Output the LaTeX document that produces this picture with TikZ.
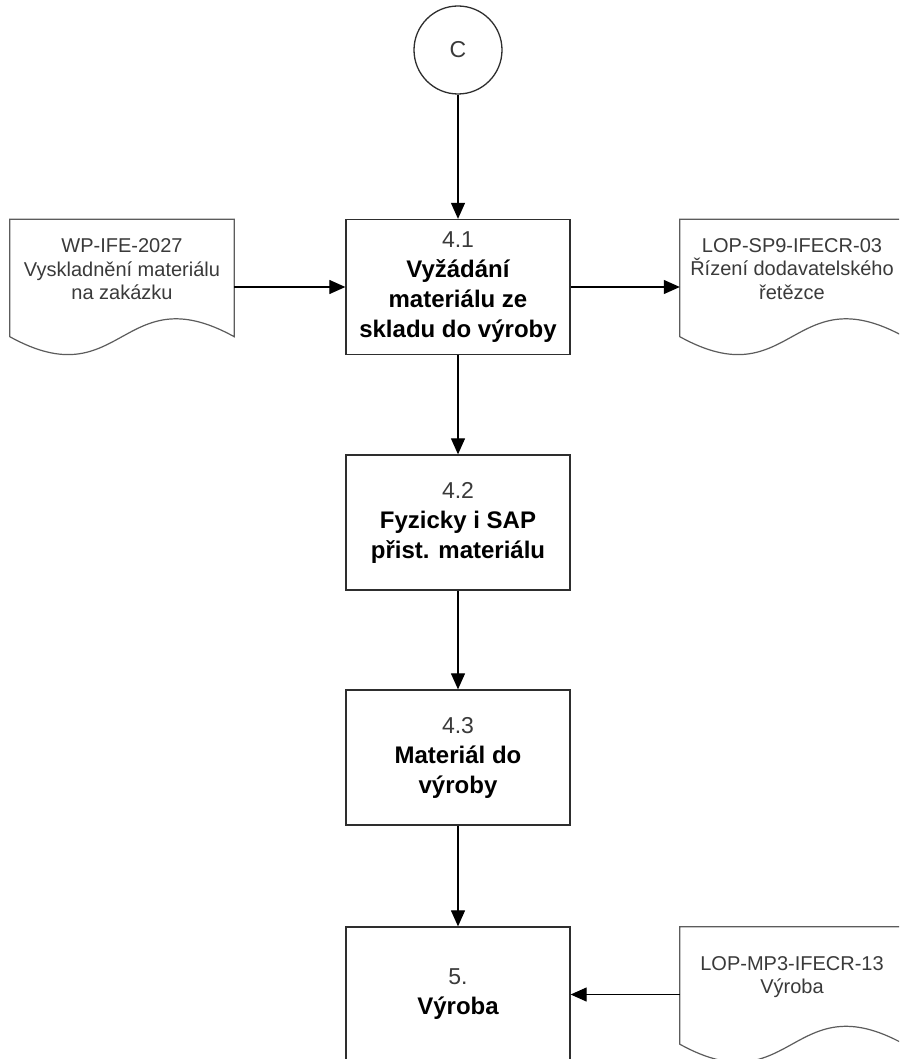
\documentclass[tikz,border=0pt]{standalone}
\usepackage{fontspec}
\setmainfont{Liberation Sans}
\usetikzlibrary{arrows.meta,calc}
\definecolor{boxline}{HTML}{2E2E2E}
\definecolor{docline}{HTML}{5C5C5C}
\definecolor{txtgray}{HTML}{3A3A3A}
\newcommand\stepnum[1]{{\fontsize{23}{30}\selectfont\mdseries\color{txtgray}#1}}
\newcommand\docshape[1]{\draw[docborder] (#1.north west) -- (#1.north east) -- ([yshift=18pt]#1.south east) .. controls ([yshift=80pt]#1.south) and ([yshift=-44pt]#1.south) .. ([yshift=18pt]#1.south west) -- cycle;}
\begin{document}
\begin{tikzpicture}[x=1pt,y=-1pt,
  procbox/.style={draw=boxline, line width=1.3pt, fill=white, minimum width=224pt, minimum height=135pt, inner sep=0pt, align=center, font=\fontsize{24}{30}\selectfont\bfseries},
  docnode/.style={minimum width=224pt, minimum height=135pt, inner sep=0pt},
  docborder/.style={draw=docline, line width=1.2pt, fill=white},
  doctext/.style={align=center, font=\fontsize{20}{23.5}\selectfont, text=txtgray, inner sep=0pt},
  conn/.style={-{Triangle[length=16pt,width=14pt]}, line width=1.2pt, black},
  connector/.style={circle, draw=boxline, line width=1.3pt, minimum size=88pt, inner sep=0pt, font=\fontsize{23}{26}\selectfont, text=txtgray}]
\useasboundingbox (0,0) rectangle (899,1059);
\clip (0,0) rectangle (899,1059);
\fill[white] (0,0) rectangle (899,1059);

\node[connector] (c) at (458,50) {C};
\node[procbox] (p41) at (458,287) {\stepnum{4.1}\\Vyžádání\\materiálu ze\\skladu do výroby};
\node[procbox] (p42) at (458,522.5) {\stepnum{4.2}\\Fyzicky i SAP\\přist. materiálu};
\node[procbox] (p43) at (458,757.5) {\stepnum{4.3}\\Materiál do\\výroby};
\node[procbox] (p5) at (458,994.5) {\stepnum{5.}\\Výroba};

\node[docnode] (d1) at (122,287) {};
\node[docnode] (d2) at (792,287) {};
\node[docnode] (d3) at (792,994.5) {};
\docshape{d1}
\docshape{d2}
\docshape{d3}
\node[doctext] (t1) at (122,269.5) {WP-IFE-2027\\Vyskladnění materiálu\\na zakázku};
\node[doctext] (t2) at (792,269) {LOP-SP9-IFECR-03\\Řízení dodavatelského\\řetězce};
\node[doctext] (t3) at (792,977) {LOP-MP3-IFECR-13\\Výroba};

\draw[conn] (c) -- (p41);
\draw[conn] (p41) -- (p42);
\draw[conn] (p42) -- (p43);
\draw[conn] (p43) -- (p5);
\draw[conn] (d1.east) -- (p41.west);
\draw[conn] (p41.east) -- (d2.west);
\draw[conn] (d3.west) -- (p5.east);
\end{tikzpicture}
\end{document}
